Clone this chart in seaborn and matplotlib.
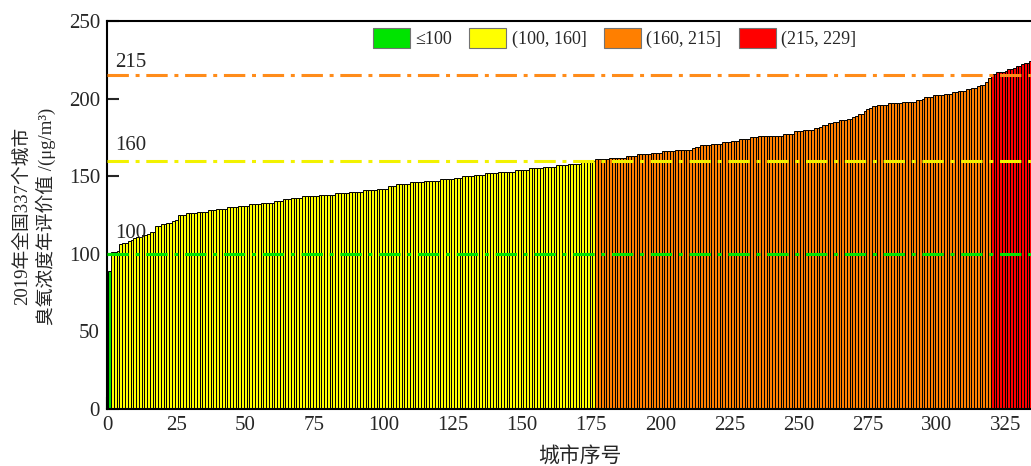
import numpy as np
import pandas as pd
import seaborn as sns
import matplotlib.pyplot as plt
from matplotlib.patches import Patch
from matplotlib.ticker import MultipleLocator

# sorted annual ozone evaluation values (ug/m3) of 337 cities
green_vals = [89]
yellow_vals = [
    101, 101, 102, 106, 107, 107, 108, 109, 110, 111, 111, 112, 112, 113, 114, 114,
    118, 118, 119, 119, 120, 120, 121, 122,
    125, 125, 125, 126, 126, 126, 126, 127, 127,
    127, 127, 128, 128, 128, 129, 129, 129, 129, 130, 130, 130, 130, 131, 131, 131,
    131, 132, 132, 132, 132, 133, 133, 133, 133, 133, 134,
    134, 134, 135, 135, 135, 136, 136, 136, 136, 137, 137,
    137, 137, 137, 137, 138, 138, 138, 138, 138,
    138, 139, 139, 139, 139, 139, 140, 140, 140, 140, 140, 141, 141, 141,
    141, 141, 142, 142, 142, 142,
    144, 144, 144, 145, 145, 145, 145,
    145, 146, 146, 146, 146, 146, 147, 147, 147, 147, 147,
    147, 148, 148, 148, 148, 148,
    149, 149, 149, 150, 150, 150,
    150, 151, 151, 151, 151, 152, 152, 152,
    152, 152, 153, 153, 153, 153, 153, 153, 154, 154,
    154, 154, 154, 155, 155, 155, 155, 155, 156, 156, 156,
    156, 156, 157, 157, 157, 157, 158, 158, 158, 158,
    158, 159, 159, 159, 160, 160,
]
orange_vals = [
    161, 161, 161, 161, 161, 162, 162, 162, 162, 162,
    162, 163, 163, 163, 163, 164, 164, 164, 164, 164, 165, 165, 165,
    165, 166, 166, 166, 166, 166,
    167, 167, 167, 167, 167, 167,
    168, 169, 169, 170,
    170, 170, 170, 171, 171, 171, 171, 172,
    172, 172, 173, 173, 173, 174, 174,
    174, 174, 175, 175, 175, 176, 176,
    176, 176, 176, 176, 176, 176, 176, 177, 177, 177, 177,
    179, 179, 179, 180, 180, 180,
    180, 181, 181, 182, 183, 183,
    184, 184, 185, 185,
    186, 186, 186, 187, 187,
    188, 189, 190, 190, 192, 193, 194, 195, 195, 196, 196,
    196, 196, 197, 197, 197, 197, 197, 198, 198, 198, 198,
    198, 199, 199, 200, 201, 201,
    201, 202, 202, 202, 202, 203, 203, 203,
    204, 204, 205, 205, 205, 206, 206,
    207, 207, 208, 209, 209, 211, 213,
]
red_vals = [216, 216, 217, 217, 217, 218, 219, 219, 220, 221, 221, 222, 223, 223,
            224, 225, 227, 229]

levels = ['≤100', '(100, 160]', '(160, 215]', '(215, 229]']
level_colors = ['#00e400', '#ffff00', '#ff7f00', '#ff0000']
thresholds = [100, 160, 215]
line_colors = ['#00e600', '#f2f200', '#ff8c1a']

groups = [green_vals, yellow_vals, orange_vals, red_vals]
o3 = [v for g in groups for v in g]
level = [lv for lv, g in zip(levels, groups) for _ in g]
df = pd.DataFrame({'city': np.arange(1, len(o3) + 1), 'o3': o3, 'level': level})

sns.set_style('ticks')
plt.rcParams['font.family'] = ['Liberation Serif', 'Noto Sans CJK SC']
plt.rcParams['font.size'] = 15

fig = plt.figure(figsize=(10.31, 4.66), dpi=100)
ax = fig.add_axes([107 / 1031, 1 - 409 / 466, 946 / 1031, 388 / 466])

palette = dict(zip(levels, level_colors))
sns.barplot(data=df, x='city', y='o3', hue='level', hue_order=levels, palette=palette,
            native_scale=True, dodge=False, width=1, saturation=1, errorbar=None,
            edgecolor='black', linewidth=0.7, legend=False, ax=ax)

# threshold lines with their labels
for t, c, off in zip(thresholds, line_colors, [10, 7, 5.5]):
    ax.axhline(t, color=c, lw=2.2, dashes=(7, 2.2, 1.3, 2.2), zorder=5)
    ax.text(3, t + off, str(t), fontsize=15, va='baseline', ha='left')

ax.set_xlim(0, 342)
ax.set_ylim(0, 250)
ax.xaxis.set_major_locator(MultipleLocator(25))
ax.yaxis.set_major_locator(MultipleLocator(50))
ax.tick_params(direction='in', length=8.5, width=1.5, labelsize=15, pad=5,
               top=False, right=False)
for s in ax.spines.values():
    s.set_linewidth(1.5)
    s.set_color('black')

ax.set_xlabel('城市序号', fontsize=15)
ax.xaxis.set_label_coords(0.5, -0.1)
ax.set_ylabel('')
fig.text(35 / 1031, 1 - 216 / 466, '2019年全国337个城市\n臭氧浓度年评价值 /(μg/m³)',
         rotation=90, ha='center', va='center', fontsize=13.5, linespacing=1.3)

handles = [Patch(facecolor=c, edgecolor='0.45', linewidth=0.8) for c in level_colors]
fig.legend(handles, levels, loc='upper left', bbox_to_anchor=(373 / 1031, 1 - 28 / 466),
           ncol=4, frameon=False, fontsize=13, handlelength=2.05, handleheight=1.3,
           handletextpad=0.3, columnspacing=0.95, borderpad=0, borderaxespad=0)

fig.savefig('out.png', dpi=100)
